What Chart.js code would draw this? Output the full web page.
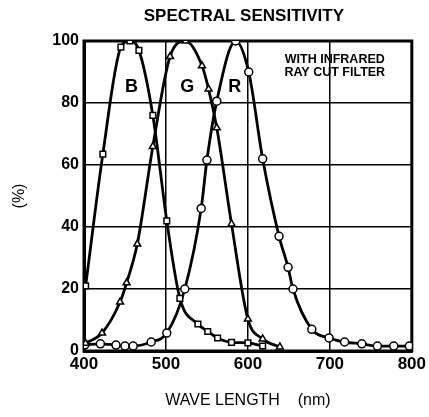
<!DOCTYPE html>
<html>
<head>
<meta charset="utf-8">
<script src="https://cdn.jsdelivr.net/npm/chart.js@4.4.0/dist/chart.umd.min.js"></script>
<style>
body{margin:0;background:#fff;}
#wrap{width:429px;height:417px;}
</style>
</head>
<body>
<div id="wrap"><canvas id="myChart" width="429" height="417"></canvas></div>
<script>
// wave length (nm) / sensitivity (%)
let waveB=[402,423,445,456,467,484,501,517,539,551,563,580,600,618];
let valB=[21,63.5,98,100,97,76,42,17,8.7,6.3,4.2,2.8,2.6,1.6];
let waveG=[402,422,444,452,465,484,505,524,544,552,562,580,600,618,639];
let valG=[2.5,5.8,15.8,22,34.5,66,95,100,92,84.5,72,41,10.3,3.9,1.3];
let waveR=[401,420,439,450,460,482,501,523,543,550,562,585,601,618,638,649,655,678,699,718,739,758,778,797];
let valR=[2,2.3,1.9,1.6,1.6,2.9,5.8,20,46,61.6,80.6,100,90,62,37,27,20,7,4.2,2.9,2.3,1.6,1.6,1.6];
let curveNames=['B','G','R'];
let xTicks=[400,500,600,700,800];
let yTicks=[0,20,40,60,80,100];

let font="'Liberation Sans', Arial, sans-serif";

function pts(xs,ys){
    return xs.map(function(x,i){return {x:x,y:ys[i]};});
}

function serie(name,xs,ys,style){
    return {
        label:name,
        data:pts(xs,ys),
        borderColor:'#000',
        borderWidth:2.8,
        cubicInterpolationMode:'monotone',
        pointStyle:style,
        pointRadius:4,
        pointBorderWidth:1.5,
        pointBorderColor:'#000',
        pointBackgroundColor:'#fff',
        fill:false
    };
}

// frame, title and texts inside the plot
let extras={
    id:'extras',
    beforeDatasetsDraw:function(chart){
        let c=chart.ctx, a=chart.chartArea;
        c.save();
        c.strokeStyle='#000';
        c.lineWidth=3;
        c.strokeRect(a.left,a.top,a.right-a.left,a.bottom-a.top);
        c.restore();
    },
    afterDraw:function(chart){
        let c=chart.ctx, a=chart.chartArea, sx=chart.scales.x, sy=chart.scales.y;
        c.save();
        c.fillStyle='#000';
        c.textAlign='center';
        c.textBaseline='middle';
        c.font="bold 17px "+font;
        c.fillText('SPECTRAL SENSITIVITY',(a.left+a.right)/2-4,16);
        c.font="bold 18px "+font;
        let nx=[458,526,584];
        curveNames.forEach(function(n,i){
            c.fillText(n,sx.getPixelForValue(nx[i]),sy.getPixelForValue(85));
        });
        c.font="bold 12.5px "+font;
        c.fillText('WITH INFRARED',sx.getPixelForValue(706),sy.getPixelForValue(93.9));
        c.fillText('RAY CUT FILTER',sx.getPixelForValue(706),sy.getPixelForValue(89.7));
        c.restore();
    }
};

var ctx=document.getElementById('myChart').getContext('2d');
var chart=new Chart(ctx,{
    type:'line',
    data:{
        datasets:[
            serie('B',waveB,valB,'rect'),
            serie('G',waveG,valG,'triangle'),
            serie('R',waveR,valR,'circle')
        ]
    },
    options:{
        responsive:false,
        animation:false,
        layout:{padding:{left:0,right:17,top:41,bottom:0}},
        plugins:{
            legend:{display:false},
            tooltip:{enabled:false},
            title:{display:false}
        },
        scales:{
            x:{
                type:'linear',
                min:400,max:800,
                afterBuildTicks:function(s){s.ticks=xTicks.map(function(v){return {value:v};});},
                afterFit:function(s){s.height=66;},
                grid:{color:'#000',lineWidth:1.5,drawTicks:false},
                border:{color:'#000',width:3},
                ticks:{color:'#000',padding:3,maxRotation:0,font:{family:font,size:17,weight:'bold'}},
                title:{display:true,text:'WAVE LENGTH    (nm)',color:'#000',
                    font:{family:font,size:16},padding:{bottom:7}}
            },
            y:{
                min:0,max:100,
                afterBuildTicks:function(s){s.ticks=yTicks.map(function(v){return {value:v};});},
                afterFit:function(s){s.width=84;},
                grid:{color:'#000',lineWidth:1.5,drawTicks:false},
                border:{color:'#000',width:3},
                ticks:{color:'#000',padding:5,font:{family:font,size:16,weight:'bold'}},
                title:{display:true,text:'(%)',color:'#000',
                    font:{family:font,size:16},padding:{top:10}}
            }
        }
    },
    plugins:[extras]
});
</script>
</body>
</html>
